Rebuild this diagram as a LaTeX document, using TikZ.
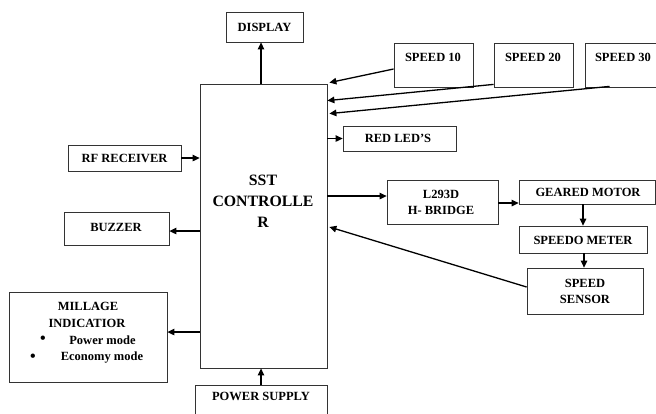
\documentclass[tikz,border=0pt]{standalone}
\usepackage{fontspec}
\setmainfont{Liberation Serif}
\usetikzlibrary{arrows.meta,calc}
\begin{document}
\begin{tikzpicture}[x=1pt,y=-1pt,
  blk/.style={draw=black!80,line width=0.8pt,rectangle,inner sep=0pt},
  lbl/.style={font=\fontsize{12.5}{16}\selectfont\bfseries,inner sep=0pt,align=center},
  arr/.style={line width=1.3pt,-{Triangle[length=7pt,width=6.5pt]}}]
\useasboundingbox (0,0) rectangle (656,413);
\clip (0,0) rectangle (656,413);
% boxes
\node[blk,minimum width=77pt,minimum height=30pt] (display) at (264.5,27) {};
\node[blk,minimum width=127pt,minimum height=284pt] (ctrl) at (263.5,226) {};
\node[blk,minimum width=79pt,minimum height=44pt] (s10) at (433.5,65) {};
\node[blk,minimum width=79pt,minimum height=44pt] (s20) at (533.5,65) {};
\node[blk,minimum width=80pt,minimum height=44pt] (s30) at (625,65) {};
\node[blk,minimum width=113pt,minimum height=25pt] (red) at (399.5,138.5) {};
\node[blk,minimum width=113pt,minimum height=26pt] (rf) at (124.5,158) {};
\node[blk,minimum width=105pt,minimum height=33pt] (buzzer) at (116.5,228.5) {};
\node[blk,minimum width=158pt,minimum height=90pt] (mill) at (88,337) {};
\node[blk,minimum width=132pt,minimum height=35pt] (power) at (261,402.5) {};
\node[blk,minimum width=111pt,minimum height=44pt] (hb) at (442.5,202) {};
\node[blk,minimum width=136pt,minimum height=24pt] (gm) at (587,192) {};
\node[blk,minimum width=128pt,minimum height=27pt] (sm) at (583,239.5) {};
\node[blk,minimum width=116pt,minimum height=46pt] (ss) at (585,291) {};
% texts
\node[lbl] (displayt) at (264.5,27) {DISPLAY};
\node[lbl,font=\fontsize{15.8}{21}\selectfont\bfseries] (ctrlt) at (263,201) {SST\\CONTROLLE\\R};
\node[lbl] (s10t) at (433,57) {SPEED 10};
\node[lbl] (s20t) at (533,57) {SPEED 20};
\node[lbl] (s30t) at (623,57) {SPEED 30};
\node[lbl] (redt) at (398,138.5) {RED LED'S};
\node[lbl] (rft) at (124.5,158) {RF RECEIVER};
\node[lbl] (buzzert) at (116,227) {BUZZER};
\node[lbl] (millt1) at (88,306) {MILLAGE};
\node[lbl] (millt2) at (87,323) {INDICATIOR};
\node[lbl] (millt3) at (102.5,340) {Power mode};
\node[lbl] (millt4) at (102,358) {Economy mode};
\node[lbl,font=\fontsize{16}{16}\selectfont\bfseries] (bul1) at (43,340) {•};
\node[lbl,font=\fontsize{16}{16}\selectfont\bfseries] (bul2) at (33,358) {•};
\node[lbl] (powert) at (261,396) {POWER SUPPLY};
\node[lbl] (hbt) at (441,202) {L293D\\H- BRIDGE};
\node[lbl] (gmt) at (588,192) {GEARED MOTOR};
\node[lbl] (smt) at (583,240) {SPEEDO METER};
\node[lbl] (sst) at (585,291.5) {SPEED\\SENSOR};
% connectors
\draw[arr] ($(ctrl.north)+(-2.5,0)$) -- ($(ctrl.north |- display.south)+(-2.5,0)$);
\draw[arr] ($(s10.west)+(0,4)$) -- ($(ctrl.north east)+(2,-1)$);
\draw[arr] ($(s20.south west)+(0,-3)$) -- ($(ctrl.north east)+(0,17)$);
\draw[arr] ($(s30.south west)+(25,-1)$) -- ($(ctrl.north east)+(2,30)$);
\draw[arr] (ctrl.east |- red.west) -- (red.west);
\draw[arr] (rf.east) -- (ctrl.west |- rf.east);
\draw[arr] ($(ctrl.west)+(0,5)$) -- ($(buzzer.east)+(0,2.5)$);
\draw[arr] ($(ctrl.west)+(0,106)$) -- ($(mill.east)+(0,-5)$);
\draw[arr] (power.north) -- (power.north |- ctrl.south);
\draw[arr] ($(ctrl.east)+(0,-30)$) -- ($(hb.west)+(0,-6)$);
\draw[arr] ($(hb.east)+(0,1)$) -- ($(gm.west)+(0,11)$);
\draw[arr] (sm.north |- gm.south) -- (sm.north);
\draw[arr] ($(sm.south)+(1,0)$) -- ($(sm.south |- ss.north)+(1,0)$);
\draw[arr] ($(ss.west)+(0,-4)$) -- ($(ctrl.east)+(2,1)$);
\end{tikzpicture}
\end{document}
